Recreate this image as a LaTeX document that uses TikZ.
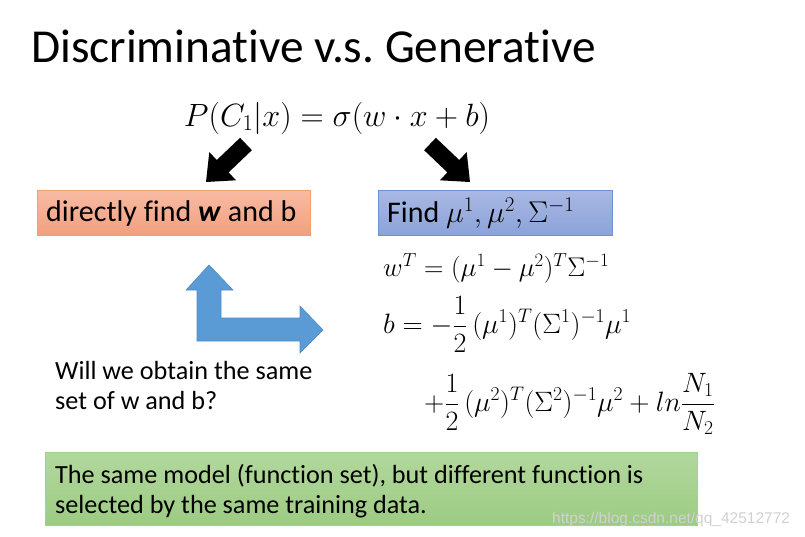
\RequirePackage{fix-cm}
\documentclass[tikz,border=0pt]{standalone}
\usepackage{amsmath}
\usepackage{fontspec}
\setmainfont[Ligatures=NoCommon]{Carlito}
\newfontfamily\wmfont{Liberation Sans}
\frenchspacing
\definecolor{orTop}{HTML}{F7BBA3}
\definecolor{orBot}{HTML}{F2A07F}
\definecolor{orLine}{HTML}{F3A06F}
\definecolor{blTop}{HTML}{A9B8E3}
\definecolor{blBot}{HTML}{8BA3D9}
\definecolor{blLine}{HTML}{6E8FD0}
\definecolor{grTop}{HTML}{B2D89E}
\definecolor{grBot}{HTML}{9CCB82}
\definecolor{grLine}{HTML}{A3D28A}
\definecolor{arBlue}{HTML}{5B9BD5}
\definecolor{arBlueLine}{HTML}{4F8CC6}
\begin{document}
\begin{tikzpicture}[x=1pt,y=-1pt,
  boxtext/.style={inner sep=0pt, anchor=west},
  fs/.style={font=\fontsize{#1}{#1}\selectfont}]
\useasboundingbox (0,0) rectangle (805,536);
\fill[white] (0,0) rectangle (805,536);
% title
\node[inner sep=0pt, anchor=base west, fs=47.3] (title) at (31,62) {Discriminative v.s. Generative};
% main equation
\node[inner sep=0pt, anchor=center, fs=32.2] (eq) at (337,118) {$P(C_1|x)=\sigma(w\cdot x+b)$};
% black arrows
\fill[black] (240.1,137.8) -- (216.8,160.0) -- (209.3,152.1) -- (206,182) -- (236.1,180.3) -- (228.6,172.4) -- (251.9,150.2) -- cycle;
\fill[black] (435.9,137.8) -- (459.2,160.0) -- (466.7,152.1) -- (470,182) -- (439.9,180.3) -- (447.4,172.4) -- (424.1,150.2) -- cycle;
% orange box
\shade[top color=orTop, bottom color=orBot, draw=orLine, line width=0.8pt] (37,190) rectangle (310,235);
\node[boxtext, fs=30] (disc) at (46,213) {directly find \textbf{\textit{w}} and b};
% blue box
\shade[top color=blTop, bottom color=blBot, draw=blLine, line width=0.8pt] (378,190) rectangle (612,235);
\node[boxtext, fs=30] (gen) at (387,213) {Find $\mu^1,\mu^2,\Sigma^{-1}$};
% blue L arrow
\fill[arBlue, draw=arBlueLine, line width=0.6pt] (209,265) -- (233,290) -- (221,290) -- (221,318) -- (300,318) -- (300,306) -- (323,330) -- (300,353) -- (300,341) -- (197,341) -- (197,290) -- (186,290) -- cycle;
% equations
\node[inner sep=0pt, anchor=base west, fs=27] (wt) at (383,276) {$w^T=(\mu^1-\mu^2)^T\Sigma^{-1}$};
\node[inner sep=0pt, anchor=base west, fs=28] (beq) at (383,333) {$b=-\dfrac{1}{2}\,(\mu^1)^T(\Sigma^1)^{-1}\mu^1$};
\node[inner sep=0pt, anchor=base west, fs=28] (beq2) at (424,411) {$+\dfrac{1}{2}\,(\mu^2)^T(\Sigma^2)^{-1}\mu^2+ln\dfrac{N_1}{N_2}$};
% question
\node[inner sep=0pt, anchor=base west, fs=26.2] (q1) at (55,379) {Will we obtain the same};
\node[inner sep=0pt, anchor=base west, fs=26.2] (q2) at (55,409) {set of w and b?};
% green box
\shade[top color=grTop, bottom color=grBot, draw=grLine, line width=0.8pt] (45,452) rectangle (697,525);
\node[inner sep=0pt, anchor=base west, fs=26.2] (c1) at (55,483) {The same model (function set), but different function is};
\node[inner sep=0pt, anchor=base west, fs=26.2] (c2) at (55,513) {selected by the same training data.};
% watermark
\node[inner sep=0pt, anchor=base west, font=\wmfont\fontsize{15.5}{15.5}\selectfont, text=black!18] (wm) at (552,523) {https://blog.csdn.net/qq\_42512772};
\end{tikzpicture}
\end{document}
